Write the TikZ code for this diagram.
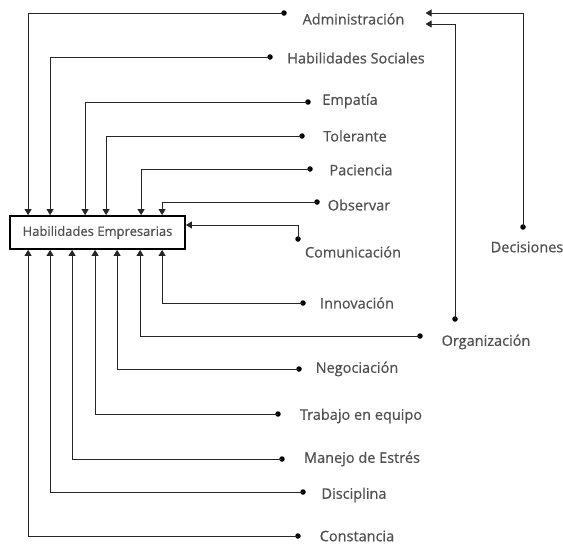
\documentclass[tikz,border=0pt]{standalone}
\usepackage{fontspec}
\setmainfont{Open Sans}
\newfontfamily\lblfont{Open Sans}[FakeBold=0.6]
\usetikzlibrary{arrows.meta}
\definecolor{txtgray}{HTML}{505050}
\tikzset{
    every node/.style={align=center,},
    lbl/.style={text=txtgray,font=\lblfont\fontsize{14.5}{16}\selectfont,inner sep=1pt,},
    mainbox/.style={draw,rectangle,line width=1.8pt,minimum width=175pt,minimum height=33pt,
        text=txtgray,font=\lblfont\fontsize{13}{15}\selectfont,},
    dot/.style={circle,fill=black,inner sep=0pt,minimum size=5.5pt,},
    link/.style={draw=black!85,line width=0.9pt,-{Triangle[width=7pt,length=6pt]},},
}

\begin{document}
\begin{tikzpicture}[x=1pt,y=-1pt]
                \useasboundingbox (0,0) rectangle (563,544);

                \node[mainbox] (box) at (97.5, 232.5) {Habilidades Empresarias};

                \node[lbl,inner xsep=21pt] (adm) at (353.5, 19) {Administración};
                \node[lbl] (habsoc) at (356, 58) {Habilidades Sociales};
                \node[lbl] (empatia) at (350, 101) {Empatía};
                \node[lbl] (tolerante) at (355, 136) {Tolerante};
                \node[lbl] (paciencia) at (361, 170) {Paciencia};
                \node[lbl] (observar) at (359, 205) {Observar};
                \node[lbl] (comunic) at (353, 252) {Comunicación};
                \node[lbl] (decisiones) at (527, 247) {Decisiones};
                \node[lbl] (innov) at (357, 303) {Innovación};
                \node[lbl] (organiz) at (486, 342) {Organización};
                \node[lbl] (negoc) at (357, 369) {Negociación};
                \node[lbl] (trabajo) at (361, 416) {Trabajo en equipo};
                \node[lbl] (manejo) at (362, 459) {Manejo de Estrés};
                \node[lbl] (discipl) at (354, 495) {Disciplina};
                \node[lbl] (constan) at (357, 536) {Constancia};

                \node[dot] (d_adm) at (284, 13) {};
                \node[dot] (d_habsoc) at (270, 57) {};
                \node[dot] (d_empatia) at (308, 102) {};
                \node[dot] (d_tolerante) at (302, 136) {};
                \node[dot] (d_paciencia) at (310, 169) {};
                \node[dot] (d_observar) at (317, 202) {};
                \node[dot] (d_comunic) at (298, 239) {};
                \node[dot] (d_decisiones) at (523, 227) {};
                \node[dot] (d_innov) at (303, 303) {};
                \node[dot] (d_organiz) at (420, 336) {};
                \node[dot] (d_organiz2) at (455, 319) {};
                \node[dot] (d_negoc) at (299, 369) {};
                \node[dot] (d_trabajo) at (278, 414) {};
                \node[dot] (d_manejo) at (282, 459) {};
                \node[dot] (d_discipl) at (303, 492) {};
                \node[dot] (d_constan) at (298, 536) {};

                % into the top of the box
                \path[link] (d_adm.center) -| ([xshift=19pt]box.north west);
                \path[link] (d_habsoc.center) -| ([xshift=41pt]box.north west);
                \path[link] (d_empatia.center) -| ([xshift=76pt]box.north west);
                \path[link] (d_tolerante.center) -| ([xshift=97pt]box.north west);
                \path[link] (d_paciencia.center) -| ([xshift=132pt]box.north west);
                \path[link] (d_observar.center) -| ([xshift=153pt]box.north west);

                % into the right side
                \path[link] (d_comunic.center) |- ([yshift=7.5pt]box.east);

                % into the bottom of the box
                \path[link] (d_innov.center) -| ([xshift=153pt]box.south west);
                \path[link] (d_organiz.center) -| ([xshift=131pt]box.south west);
                \path[link] (d_negoc.center) -| ([xshift=108pt]box.south west);
                \path[link] (d_trabajo.center) -| ([xshift=86pt]box.south west);
                \path[link] (d_manejo.center) -| ([xshift=63pt]box.south west);
                \path[link] (d_discipl.center) -| ([xshift=41pt]box.south west);
                \path[link] (d_constan.center) -| ([xshift=19pt]box.south west);

                % into Administracion
                \path[link] (d_decisiones.center) |- ([yshift=6pt]adm.east);
                \path[link] (d_organiz2.center) |- ([yshift=-5pt]adm.east);
            \end{tikzpicture}
\end{document}
